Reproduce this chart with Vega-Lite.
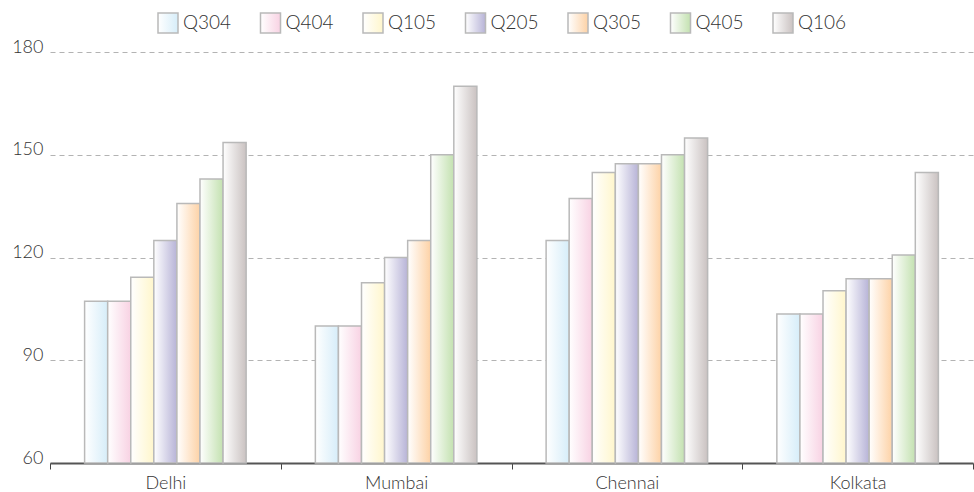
{
  "$schema": "https://vega.github.io/schema/vega-lite/v6.json",
  "width": 923,
  "height": 411,
  "autosize": {"type": "none"},
  "padding": {"left": 50, "top": 52, "right": 1, "bottom": 29},
  "background": "white",
  "config": {
    "view": {"stroke": null},
    "font": "Lato",
    "axis": {"labelFont": "Lato", "labelColor": "#333333", "labelFontSize": 18, "labelFontWeight": 300},
    "legend": {"labelFont": "Lato", "labelColor": "#333333", "labelFontSize": 19, "labelFontWeight": 300, "padding": 0}
  },
  "data": {
    "values": [
      {"city": "Delhi", "quarter": "Q304", "value": 107.2},
      {"city": "Delhi", "quarter": "Q404", "value": 107.2},
      {"city": "Delhi", "quarter": "Q105", "value": 114.2},
      {"city": "Delhi", "quarter": "Q205", "value": 125},
      {"city": "Delhi", "quarter": "Q305", "value": 135.8},
      {"city": "Delhi", "quarter": "Q405", "value": 142.9},
      {"city": "Delhi", "quarter": "Q106", "value": 153.6},
      {"city": "Mumbai", "quarter": "Q304", "value": 100},
      {"city": "Mumbai", "quarter": "Q404", "value": 100},
      {"city": "Mumbai", "quarter": "Q105", "value": 112.6},
      {"city": "Mumbai", "quarter": "Q205", "value": 120},
      {"city": "Mumbai", "quarter": "Q305", "value": 125},
      {"city": "Mumbai", "quarter": "Q405", "value": 150},
      {"city": "Mumbai", "quarter": "Q106", "value": 170},
      {"city": "Chennai", "quarter": "Q304", "value": 125},
      {"city": "Chennai", "quarter": "Q404", "value": 137.2},
      {"city": "Chennai", "quarter": "Q105", "value": 144.8},
      {"city": "Chennai", "quarter": "Q205", "value": 147.4},
      {"city": "Chennai", "quarter": "Q305", "value": 147.4},
      {"city": "Chennai", "quarter": "Q405", "value": 150},
      {"city": "Chennai", "quarter": "Q106", "value": 154.9},
      {"city": "Kolkata", "quarter": "Q304", "value": 103.5},
      {"city": "Kolkata", "quarter": "Q404", "value": 103.5},
      {"city": "Kolkata", "quarter": "Q105", "value": 110.3},
      {"city": "Kolkata", "quarter": "Q205", "value": 113.8},
      {"city": "Kolkata", "quarter": "Q305", "value": 113.8},
      {"city": "Kolkata", "quarter": "Q405", "value": 120.7},
      {"city": "Kolkata", "quarter": "Q106", "value": 144.8}
    ]
  },
  "encoding": {
    "x": {
      "field": "city",
      "type": "nominal",
      "sort": null,
      "scale": {"paddingInner": 0, "paddingOuter": 0},
      "axis": {
        "title": null,
        "labelAngle": 0,
        "domainColor": "#555555",
        "domainWidth": 2,
        "tickColor": "#444444",
        "tickSize": 6,
        "tickBand": "extent",
        "labelPadding": 5,
        "grid": false
      }
    },
    "xOffset": {
      "field": "quarter",
      "type": "nominal",
      "scale": {
        "domain": ["gap-start", "Q304", "Q404", "Q105", "Q205", "Q305", "Q405", "Q106", "gap-end"],
        "paddingInner": 0,
        "paddingOuter": 0.5
      }
    },
    "y": {
      "field": "value",
      "type": "quantitative",
      "scale": {"domain": [60, 180], "zero": false, "nice": false},
      "axis": {
        "title": null,
        "values": [60, 90, 120, 150, 180],
        "domain": false,
        "ticks": false,
        "labelPadding": 7,
        "labelBaseline": "alphabetic",
        "gridColor": "#b3b3b3",
        "gridDash": [5, 4],
        "gridWidth": 1
      }
    }
  },
  "layer": [
    {
      "mark": {
        "type": "point",
        "filled": true,
        "opacity": 0,
        "stroke": "#b9b9b9",
        "strokeWidth": 1.5,
        "fill": {"expr": "{gradient: 'linear', x1: 0, y1: 0, x2: 1, y2: 0, stops: [{offset: 0, color: '#ffffff'}, {offset: 1, color: ['#d6edf9', '#f8d2e3', '#fff6cc', '#b7b3d7', '#fdd2a6', '#c3e1b0', '#cac2c1'][indexof(['Q304', 'Q404', 'Q105', 'Q205', 'Q305', 'Q405', 'Q106'], datum.quarter || datum.value)]}]}"}
      },
      "encoding": {
        "shape": {
          "field": "quarter",
          "type": "nominal",
          "sort": null,
          "scale": {
            "domain": ["Q304", "Q404", "Q105", "Q205", "Q305", "Q405", "Q106"],
            "range": ["square", "square", "square", "square", "square", "square", "square"]
          },
          "legend": {
            "title": null,
            "orient": "none",
            "legendX": 107,
            "legendY": -40,
            "direction": "horizontal",
            "gridAlign": "all",
            "symbolSize": 400,
            "symbolOpacity": 1,
            "symbolStrokeWidth": 1.5,
            "labelOffset": 4,
            "columnPadding": 25.5
          }
        }
      }
    },
    {
      "mark": {
        "type": "bar",
        "stroke": "#b9b9b9",
        "strokeWidth": 1.5,
        "fill": {"expr": "{gradient: 'linear', x1: 0, y1: 0, x2: 1, y2: 0, stops: [{offset: 0, color: '#ffffff'}, {offset: 1, color: ['#d6edf9', '#f8d2e3', '#fff6cc', '#b7b3d7', '#fdd2a6', '#c3e1b0', '#cac2c1'][indexof(['Q304', 'Q404', 'Q105', 'Q205', 'Q305', 'Q405', 'Q106'], datum.quarter)]}]}"}
      },
      "encoding": {
        "y2": {"datum": 60}
      }
    }
  ]
}
